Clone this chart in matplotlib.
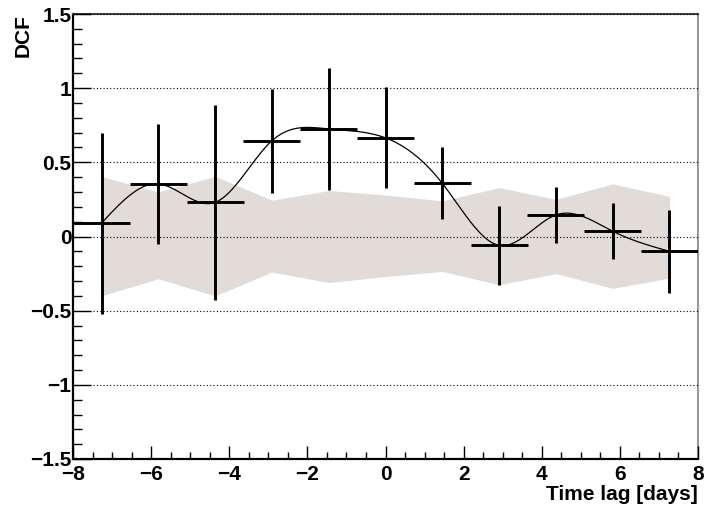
import numpy as np
import matplotlib

matplotlib.use("Agg")
import matplotlib.pyplot as plt

# DCF points (lag bin centres, values, errors)
lags = [-7.27, -5.82, -4.36, -2.91, -1.45, 0.0, 1.45, 2.91, 4.36, 5.82, 7.27]
lag_halfwidth = 0.727
dcf = [0.09, 0.355, 0.23, 0.645, 0.725, 0.665, 0.36, -0.06, 0.145, 0.035, -0.10]
dcf_err = [0.61, 0.405, 0.655, 0.35, 0.41, 0.34, 0.245, 0.265, 0.19, 0.19, 0.28]

# significance band
band_hi = [0.405, 0.30, 0.405, 0.245, 0.31, 0.28, 0.24, 0.33, 0.25, 0.355, 0.27]
band_lo = [-0.40, -0.285, -0.40, -0.24, -0.31, -0.27, -0.235, -0.325, -0.25, -0.35, -0.28]


def natural_spline(x, y, n=400):
    # natural cubic spline through the points
    x = np.asarray(x, float)
    y = np.asarray(y, float)
    k = len(x)
    h = np.diff(x)
    A = np.zeros((k, k))
    r = np.zeros(k)
    A[0, 0] = A[-1, -1] = 1.0
    for i in range(1, k - 1):
        A[i, i - 1] = h[i - 1]
        A[i, i] = 2 * (h[i - 1] + h[i])
        A[i, i + 1] = h[i]
        r[i] = 3 * ((y[i + 1] - y[i]) / h[i] - (y[i] - y[i - 1]) / h[i - 1])
    c = np.linalg.solve(A, r)
    xs = np.linspace(x[0], x[-1], n)
    idx = np.clip(np.searchsorted(x, xs) - 1, 0, k - 2)
    b = (y[1:] - y[:-1]) / h - h * (2 * c[:-1] + c[1:]) / 3
    d = (c[1:] - c[:-1]) / (3 * h)
    t = xs - x[idx]
    ys = y[idx] + b[idx] * t + c[idx] * t**2 + d[idx] * t**3
    return xs, ys


plt.rcParams["font.family"] = ["Liberation Sans", "DejaVu Sans"]
plt.rcParams["font.weight"] = "bold"

fig = plt.figure(figsize=(7.04, 5.07), dpi=100)
ax = fig.add_axes([73 / 704, 1 - 459 / 507, 625 / 704, 445 / 507])

ax.fill_between(lags, band_lo, band_hi, color="#e1dcd8", lw=0, zorder=1)

xs, ys = natural_spline(lags, dcf)
ax.plot(xs, ys, color="black", lw=0.9, zorder=3)

ax.errorbar(lags, dcf, xerr=lag_halfwidth, yerr=dcf_err, fmt="none",
            ecolor="black", elinewidth=2.1, capsize=0, zorder=4)

ax.set_xlim(-8, 8)
ax.set_ylim(-1.5, 1.5)
ax.set_xticks(np.arange(-8, 9, 2))
ax.set_xticks(np.arange(-8, 8.01, 0.5), minor=True)
ax.set_yticks([-1.5, -1, -0.5, 0, 0.5, 1, 1.5])
ax.set_yticks(np.arange(-1.5, 1.51, 0.1), minor=True)
ax.set_yticklabels(["\u22121.5", "\u22121", "\u22120.5", "0", "0.5", "1", "1.5"])
ax.set_xticklabels(["\u22128", "\u22126", "\u22124", "\u22122", "0", "2", "4", "6", "8"])

ax.yaxis.grid(True, which="major", linestyle=(0, (1, 2)), color="black", lw=0.8)
ax.set_axisbelow(False)

ax.tick_params(axis="both", which="both", direction="in", labelsize=15, width=1.0)
ax.tick_params(axis="y", which="major", length=13, pad=1)
ax.tick_params(axis="y", which="minor", length=6.5)
ax.tick_params(axis="x", which="major", length=9.5, pad=4)
ax.tick_params(axis="x", which="minor", length=5)
ax.tick_params(top=False, right=False, which="both")

ax.spines["left"].set_linewidth(1.6)
ax.spines["bottom"].set_linewidth(1.6)
ax.spines["top"].set_color("#444444")
ax.spines["top"].set_linewidth(1.5)
ax.spines["right"].set_color("#999999")
ax.spines["right"].set_linewidth(1.5)

fig.text(23 / 704, 1 - 36 / 507, "DCF", rotation=90, ha="center", va="center",
         fontsize=15, fontweight="bold")
fig.text(698 / 704, 1 - 494 / 507, "Time lag [days]", ha="right", va="center",
         fontsize=15, fontweight="bold")

fig.savefig("out.png", dpi=100)
